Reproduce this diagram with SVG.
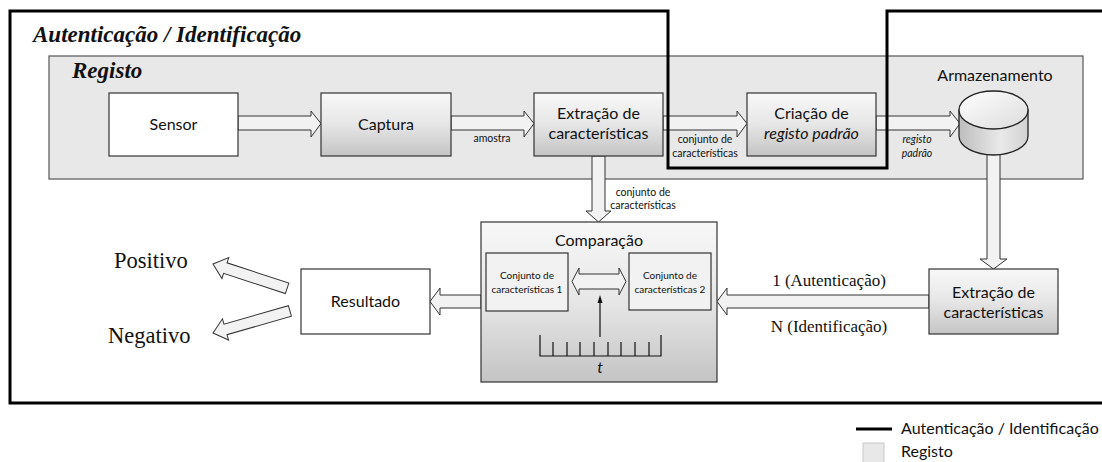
<svg xmlns="http://www.w3.org/2000/svg" width="1102" height="462" viewBox="0 0 1102 462">
  <defs>
    <linearGradient id="boxGrad" x1="0" y1="0" x2="0" y2="1">
      <stop offset="0" stop-color="#f8f8f8"/>
      <stop offset="0.5" stop-color="#e6e6e6"/>
      <stop offset="1" stop-color="#c4c4c4"/>
    </linearGradient>
    <linearGradient id="cylBody" x1="0" y1="0" x2="1" y2="0">
      <stop offset="0" stop-color="#bdbdbd"/>
      <stop offset="0.6" stop-color="#e9e9e9"/>
      <stop offset="1" stop-color="#d2d2d2"/>
    </linearGradient>
    <linearGradient id="cylTop" x1="0" y1="0" x2="1" y2="1">
      <stop offset="0" stop-color="#ffffff"/>
      <stop offset="1" stop-color="#dcdcdc"/>
    </linearGradient>
    <style>
      .box { stroke: #333; stroke-width: 1.2; }
      .grad { fill: url(#boxGrad); }
      .plain { fill: #ffffff; }
      .barrow { fill: #f2f2f2; stroke: #333; stroke-width: 1; stroke-linejoin: miter; }
      .sans { font-family: Lato, "Liberation Sans", sans-serif; fill: #111; }
      .serif { font-family: "Liberation Serif", "Times New Roman", serif; fill: #111; }
      .big { font-size: 16px; }
      .small { font-size: 10.5px; }
      .inner { font-size: 10px; }
      .ttl { font-size: 23px; font-weight: bold; font-style: italic; }
      .outline { fill: none; stroke: #000; stroke-width: 3; }
    </style>
  </defs>

  <!-- Registo panel -->
  <g id="registo-panel">
    <rect x="49" y="56" width="1034" height="123" fill="#e8e8e8" stroke="#555" stroke-width="1.2"/>
    <text class="serif ttl" x="72" y="78">Registo</text>
  </g>

  <text id="title" class="serif ttl" x="33" y="42">Autenticação / Identificação</text>

  <!-- Block-arrow connectors -->
  <g id="connectors">
    <path class="barrow" d="M238,116 H311 V111 L321,123.5 L311,137 V130 H238 Z"/>
    <path class="barrow" d="M451,116 H524 V111 L534,123.5 L524,137 V130 H451 Z"/>
    <path class="barrow" d="M663,116 H737 V111 L747,123.5 L737,137 V130 H663 Z"/>
    <path class="barrow" d="M876,116 H950 V111 L960,123.5 L950,137 V130 H876 Z"/>
    <path class="barrow" d="M592,156 V211 H586 L598.5,222 L611,211 H605 V156 Z"/>
    <path class="barrow" d="M987,148 V259 H980 L993.5,269 L1007,259 H1000 V148 Z"/>
    <path class="barrow" d="M929,295 H727 V288 L717,301.5 L727,315 V308 H929 Z"/>
    <path class="barrow" d="M481,295 H440 V288 L430,301.5 L440,315 V308 H481 Z"/>
    <path class="barrow" transform="translate(213,264) rotate(18.2)" d="M0,0 L13,-11 V-5.5 H78 V5.5 H13 V11 Z"/>
    <path class="barrow" transform="translate(213,333) rotate(-16)" d="M0,0 L13,-11 V-5.5 H80 V5.5 H13 V11 Z"/>

    <text class="sans small" x="492" y="142" text-anchor="middle">amostra</text>
    <text class="sans small" x="705" y="143" text-anchor="middle">conjunto de</text>
    <text class="sans small" x="705" y="157" text-anchor="middle">características</text>
    <text class="sans small" x="917" y="143" text-anchor="middle" font-style="italic">registo</text>
    <text class="sans small" x="917" y="157" text-anchor="middle" font-style="italic">padrão</text>
    <text class="sans small" x="643" y="196" text-anchor="middle">conjunto de</text>
    <text class="sans small" x="643" y="209" text-anchor="middle">características</text>
    <text class="serif" x="829" y="286" font-size="17" text-anchor="middle">1 (Autenticação)</text>
    <text class="serif" x="829" y="332" font-size="17" text-anchor="middle">N (Identificação)</text>
  </g>

  <g id="sensor">
    <rect class="box plain" x="109" y="93" width="129" height="63"/>
    <text class="sans big" x="173.5" y="130" text-anchor="middle">Sensor</text>
  </g>

  <g id="captura">
    <rect class="box grad" x="321" y="93" width="130" height="63"/>
    <text class="sans big" x="386" y="130" text-anchor="middle">Captura</text>
  </g>

  <g id="extracao-registo">
    <rect class="box grad" x="534" y="93" width="129" height="63"/>
    <text class="sans big" x="598.5" y="119" text-anchor="middle">Extração de</text>
    <text class="sans big" x="598.5" y="139" text-anchor="middle">características</text>
  </g>

  <g id="criacao">
    <rect class="box grad" x="747" y="93" width="129" height="63"/>
    <text class="sans big" x="811.5" y="119" text-anchor="middle">Criação de</text>
    <text class="sans big" x="811.5" y="139" text-anchor="middle" font-style="italic">registo padrão</text>
  </g>

  <g id="armazenamento">
    <text class="sans big" x="995" y="81" text-anchor="middle">Armazenamento</text>
    <path d="M959,110 V136 A34.5,19 0 0 0 1028,136 V110 Z" fill="url(#cylBody)" stroke="#222" stroke-width="1.3"/>
    <ellipse cx="993.5" cy="110" rx="34.5" ry="19" fill="url(#cylTop)" stroke="#222" stroke-width="1.3"/>
  </g>

  <g id="comparacao">
    <rect class="box grad" x="481" y="222" width="236" height="160"/>
    <text class="sans big" x="599" y="246" text-anchor="middle">Comparação</text>
    <rect x="486" y="253" width="82" height="58" fill="#f2f2f2" stroke="#333" stroke-width="1.2"/>
    <text class="sans inner" x="527" y="279" text-anchor="middle">Conjunto de</text>
    <text class="sans inner" x="527" y="293" text-anchor="middle">características 1</text>
    <rect x="629" y="253" width="82" height="57" fill="#f2f2f2" stroke="#333" stroke-width="1.2"/>
    <text class="sans inner" x="670" y="279" text-anchor="middle">Conjunto de</text>
    <text class="sans inner" x="670" y="293" text-anchor="middle">características 2</text>
    <path class="barrow" d="M579,274 H619 V268 L626,281.5 L619,295 V289 H579 V295 L572,281.5 L579,268 Z"/>
    <line x1="600" y1="337" x2="600" y2="302" stroke="#111" stroke-width="1.2"/>
    <path d="M600,295 L597.5,303 L602.5,303 Z" fill="#111"/>
    <path d="M540,335 V356 H661 V335 M553,342 V356 M567,342 V356 M580,342 V356 M594,342 V356 M608,342 V356 M621,342 V356 M635,342 V356 M649,342 V356" fill="none" stroke="#111" stroke-width="1.2"/>
    <text class="sans big" x="600" y="373" text-anchor="middle" font-style="italic">t</text>
  </g>

  <g id="resultado">
    <rect class="box plain" x="301" y="269" width="129" height="65"/>
    <text class="sans big" x="365.5" y="307" text-anchor="middle">Resultado</text>
  </g>

  <g id="extracao-autenticacao">
    <rect class="box grad" x="929" y="269" width="129" height="65"/>
    <text class="sans big" x="993.5" y="298" text-anchor="middle">Extração de</text>
    <text class="sans big" x="993.5" y="318" text-anchor="middle">características</text>
  </g>

  <g id="positivo">
    <text class="serif" x="114" y="268" font-size="22.5">Positivo</text>
  </g>
  <g id="negativo">
    <text class="serif" x="108" y="343" font-size="22.5">Negativo</text>
  </g>

  <!-- Autenticação / Identificação boundary -->
  <path id="auth-boundary" class="outline" d="M1102,11 H887 V168 H668 V11 H10 V403 H1102"/>

  <g id="legend">
    <line x1="856" y1="429" x2="892" y2="429" stroke="#000" stroke-width="3"/>
    <text class="sans" x="901" y="434" font-size="16">Autenticação / Identificação</text>
    <rect x="863" y="443" width="21" height="21" fill="#e8e8e8" stroke="#c8c8c8" stroke-width="1"/>
    <text class="sans" x="901" y="457" font-size="16">Registo</text>
  </g>
</svg>
